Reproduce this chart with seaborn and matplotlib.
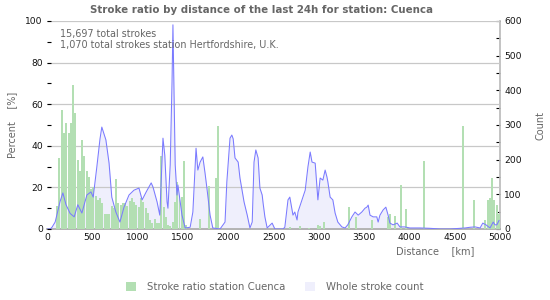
import numpy as np
import pandas as pd
import matplotlib
matplotlib.use("Agg")
import matplotlib.pyplot as plt
from matplotlib.patches import Patch
from matplotlib.ticker import MultipleLocator
import seaborn as sns

# ---------------- data ----------------
title = "Stroke ratio by distance of the last 24h for station: Cuenca"
info_lines = ["15,697 total strokes", "1,070 total strokes station Hertfordshire, U.K."]
legend_labels = ["Stroke ratio station Cuenca", "Whole stroke count"]

# green bars: 25 km bins (bin start in km) -> stroke ratio in %
ratio_km = [100, 125, 150, 175, 200, 225, 250, 275, 300, 325, 350, 375, 400, 425,
            450, 475, 500, 525, 550, 575, 600, 625, 650, 675, 700, 725, 750, 775,
            800, 825, 850, 875, 900, 925, 950, 975, 1000, 1025, 1050, 1075, 1100,
            1125, 1150, 1175, 1200, 1225, 1250, 1275, 1300, 1325, 1350, 1375, 1400,
            1425, 1450, 1475, 1500, 1525, 1675, 1775, 1850, 1875, 2675, 2775, 2875,
            2975, 3000, 3050, 3325, 3400, 3575, 3750, 3775, 3825, 3900, 3950, 4150,
            4575, 4700, 4825, 4850, 4875, 4900, 4925, 4950, 4975]
ratio_pct = [11, 34, 57, 46, 51, 46, 51, 69, 56, 33, 28, 43, 35, 28,
             25, 19, 20, 16, 14, 15, 12.5, 7, 7, 7, 11, 10, 24, 12.5,
             11.5, 12.6, 12.5, 11, 13.6, 15, 13, 11.5, 10.7, 15, 13, 10, 7.7,
             4.3, 2.9, 5, 3, 3, 35, 10.7, 6, 2, 1.5, 3.5, 13,
             22.7, 16, 15.5, 32.7, 2, 4.8, 20.7, 24.5, 49.5, 1, 1.5, 0.6,
             2, 1.5, 3.4, 10.6, 5.9, 4.3, 5.8, 7.2, 6.3, 21, 9.6, 32.7,
             49.5, 14, 4.3, 14, 15, 24.5, 14, 11.5, 7]

# whole stroke count line (km -> count)
count_km = [0, 35, 55, 90, 145, 175, 210, 255, 300, 340, 385, 440, 485, 510, 550,
            585, 605, 650, 685, 715, 760, 805, 850, 905, 960, 1015, 1050, 1095,
            1150, 1170, 1215, 1245, 1280, 1300, 1325, 1335, 1360, 1380, 1390, 1400,
            1415, 1435, 1445, 1470, 1490, 1525, 1580, 1610, 1645, 1665, 1690, 1720,
            1745, 1765, 1800, 1830, 1910, 1965, 1985, 2020, 2040, 2055, 2075, 2110,
            2130, 2175, 2210, 2240, 2265, 2285, 2305, 2330, 2350, 2375, 2385, 2405,
            2430, 2485, 2515, 2605, 2625, 2660, 2680, 2705, 2715, 2735, 2760, 2770,
            2815, 2850, 2880, 2905, 2925, 2960, 2980, 2990, 3015, 3045, 3070, 3090,
            3100, 3125, 3155, 3180, 3210, 3255, 3290, 3320, 3365, 3400, 3435, 3475,
            3510, 3530, 3545, 3565, 3600, 3640, 3655, 3675, 3710, 3740, 3765, 3785,
            3820, 3865, 3895, 3950, 4005, 4115, 4225, 4340, 4450, 4560, 4615, 4670,
            4725, 4780, 4810, 4845, 4890, 4925, 4945, 4965, 4990]
count_val = [0, 0, 5, 20, 80, 104, 70, 45, 35, 70, 46, 98, 107, 92, 179,
             260, 294, 257, 190, 92, 49, 20, 63, 98, 112, 118, 84, 107,
             133, 121, 78, 40, 262, 213, 78, 60, 185, 424, 589, 424,
             185, 98, 127, 78, 40, 3, 5, 49, 233, 170, 193, 208,
             160, 118, 40, 3, 0, 20, 136, 262, 271, 260, 205, 193,
             147, 78, 40, 3, 20, 193, 228, 205, 118, 98, 75, 35,
             3, 17, 0, 0, 5, 84, 92, 55, 40, 49, 26, 49,
             84, 112, 179, 222, 193, 190, 121, 84, 147, 141, 170, 150,
             136, 92, 84, 46, 20, 6, 3, 12, 35, 49, 40, 49,
             60, 63, 69, 40, 35, 35, 20, 40, 55, 63, 40, 17,
             12, 17, 6, 6, 3, 3, 2, 0, 0, 2, 3, 5,
             6, 3, 17, 12, 3, 20, 12, 12, 25]

x_ticks = [0, 500, 1000, 1500, 2000, 2500, 3000, 3500, 4000, 4500, 5000]
pct_ticks = [0, 20, 40, 60, 80, 100]
count_ticks = [0, 100, 200, 300, 400, 500, 600]

# ---------------- styling ----------------
sns.set_theme(style="white")
plt.rcParams["font.family"] = ["DejaVu Sans"]

GREEN = "#b3dfb3"
LAV = "#efeffc"
LINE = "#7a7aff"
GRAY = "#666666"
GRID = "#c8c8c8"

bin_width = 25
ratio_df = pd.DataFrame({"km": [k + bin_width / 2 for k in ratio_km],
                         "pct": [float(v) for v in ratio_pct]})
count_df = pd.DataFrame({"km": count_km, "count": count_val})

fig = plt.figure(figsize=(5.5, 3), dpi=100)
ax = fig.add_axes([47 / 550, 71 / 300, 453 / 550, 208 / 300])  # count (fill)

ax.fill_between(count_df["km"], count_df["count"], color=LAV, lw=0, zorder=1)

ax2 = ax.twinx()  # percent bars
sns.histplot(data=ratio_df, x="km", weights="pct", binwidth=bin_width,
             binrange=(0, 5000), ax=ax2, color=GREEN, alpha=1, linewidth=0,
             shrink=0.88)
ax3 = ax.twinx()  # count line on top
sns.lineplot(data=count_df, x="km", y="count", ax=ax3, color=LINE, lw=0.75)

for a in (ax, ax2, ax3):
    a.set_xlim(0, 5000)
    a.set_xlabel("")
    a.set_ylabel("")
    for s in a.spines.values():
        s.set_visible(False)

ax.set_ylim(0, 600)
ax3.set_ylim(0, 600)
ax2.set_ylim(0, 100)

# count axis on the right
ax.yaxis.tick_right()
ax.set_yticks(count_ticks)
ax.yaxis.set_minor_locator(MultipleLocator(50))
ax.set_xticks(x_ticks)
ax.xaxis.set_minor_locator(MultipleLocator(100))
ax.tick_params(axis="both", which="both", direction="in", color="black",
               labelsize=6.6, labelcolor="#111111", width=0.8)
ax.tick_params(axis="both", which="major", length=3, pad=3)
ax.tick_params(axis="both", which="minor", length=3)
ax.tick_params(axis="y", which="both", left=False, right=True, labelleft=False, labelright=True)
ax.spines["bottom"].set_visible(True)
ax.spines["bottom"].set_color("#aaaaaa")
ax.spines["right"].set_visible(True)
ax.spines["right"].set_color("#bbbbbb")

# percent axis on the left
ax2.yaxis.tick_left()
ax2.set_yticks(pct_ticks)
ax2.yaxis.set_minor_locator(MultipleLocator(10))
ax2.tick_params(axis="y", which="both", direction="in", length=3, color="black",
                labelsize=6.6, labelcolor="#111111", width=0.8, pad=3,
                left=True, right=False, labelleft=True, labelright=False)
ax2.grid(axis="y", color=GRID, lw=0.9)
ax2.set_axisbelow(True)

ax3.set_yticks([])
ax3.tick_params(left=False, right=False, labelleft=False, labelright=False)

# labels
ax2.yaxis.set_label_position("left")
ax2.set_ylabel("Percent    [%]", color=GRAY, fontsize=7, labelpad=6)
ax.yaxis.set_label_position("right")
ax.set_ylabel("Count", color=GRAY, fontsize=7, labelpad=10)
fig.text(474 / 550, 1 - 251 / 300, "Distance    [km]", color=GRAY, fontsize=7,
         ha="right", va="center")

fig.text(261 / 550, 1 - 10 / 300, title, color=GRAY, fontsize=7.4, fontweight="bold",
         ha="center", va="center")
for i, line in enumerate(info_lines):
    fig.text(60 / 550, 1 - (34.5 + 10.7 * i) / 300, line, color=GRAY, fontsize=6.9,
             ha="left", va="center")

handles = [Patch(facecolor=GREEN, edgecolor="none"), Patch(facecolor=LAV, edgecolor="none")]
fig.legend(handles, legend_labels, loc="center", bbox_to_anchor=(0.5, 1 - 287 / 300),
           ncol=2, frameon=False, fontsize=7.3, labelcolor=GRAY, handlelength=1.0,
           handleheight=1.0, handletextpad=1.1, columnspacing=1.9)

fig.savefig("out.png", dpi=100)
